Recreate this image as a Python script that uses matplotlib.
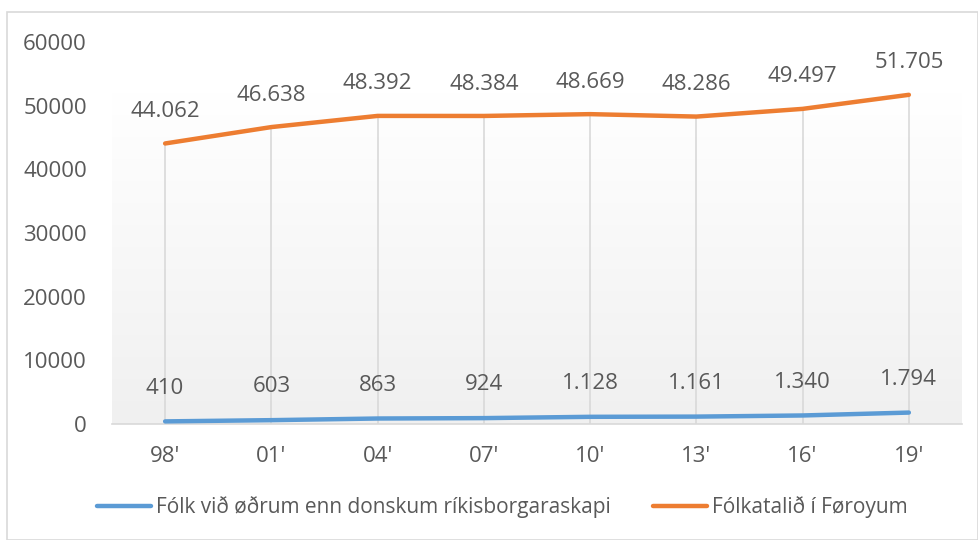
import numpy as np
import matplotlib
matplotlib.use("Agg")
import matplotlib.pyplot as plt
from matplotlib.colors import LinearSegmentedColormap
from matplotlib.patches import Rectangle

categories = ["98'", "01'", "04'", "07'", "10'", "13'", "16'", "19'"]
foreign = [410, 603, 863, 924, 1128, 1161, 1340, 1794]
population = [44062, 46638, 48392, 48384, 48669, 48286, 49497, 51705]
series_names = ["Fólk við øðrum enn donskum ríkisborgaraskapi", "Fólkatalið í Føroyum"]
yticks = [0, 10000, 20000, 30000, 40000, 50000, 60000]

def fmt(v):
    return f"{v:,}".replace(",", ".")

plt.rcParams['font.family'] = ['Open Sans', 'DejaVu Sans']
txt = '#595959'
blue = '#5B9BD5'
orange = '#ED7D31'
FS = 16
LFS = 15

W, H = 979, 540
fig = plt.figure(figsize=(W/100, H/100), dpi=100)
fig.patch.set_facecolor('white')
# outer border
fig.patches.append(Rectangle((7/W, 0.0), 1 - 7/W - 0.5/W, 1 - 12/H, transform=fig.transFigure,
                             fill=False, edgecolor='#d9d9d9', linewidth=1.2))

ax = fig.add_axes([112/W, (H-424)/H, (962-112)/W, (424-42)/H])
x = np.arange(len(categories))
ax.set_xlim(-0.5, len(categories) - 0.5)

# gradient background
grad = np.linspace(0, 1, 256).reshape(-1, 1)
cmap = LinearSegmentedColormap.from_list('g', ['#f0f0f0', '#ffffff'])
ax.imshow(grad, aspect='auto', cmap=cmap, origin='lower',
          extent=[-0.5, len(categories) - 0.5, 0, 52000], zorder=0)
ax.set_ylim(0, 60000)
ax.set_facecolor('none')

# drop lines
ax.vlines(x, 0, population, colors='#d9d9d9', linewidth=1.2, zorder=1)

ax.plot(x, foreign, color=blue, linewidth=3.2, solid_capstyle='round', zorder=3, label=series_names[0])
ax.plot(x, population, color=orange, linewidth=3.2, solid_capstyle='round', zorder=3, label=series_names[1])

for xi, v in zip(x, foreign):
    ax.annotate(fmt(v), (xi, v), xytext=(0, 24), textcoords='offset points',
                ha='center', va='center', fontsize=FS, color=txt)
for xi, v in zip(x, population):
    ax.annotate(fmt(v), (xi, v), xytext=(0, 23), textcoords='offset points',
                ha='center', va='center', fontsize=FS, color=txt)

for s in ['top', 'right', 'left']:
    ax.spines[s].set_visible(False)
ax.spines['bottom'].set_color('#d9d9d9')
ax.spines['bottom'].set_linewidth(1.2)
ax.set_xticks(x)
ax.set_xticklabels(categories)
ax.set_yticks(yticks)
ax.set_yticklabels([str(t) for t in yticks])
ax.tick_params(axis='both', length=0, labelsize=FS, colors=txt)
ax.tick_params(axis='x', pad=16)
ax.tick_params(axis='y', pad=18)

leg = fig.legend(loc='center', bbox_to_anchor=(502.5/W, (H-507)/H), ncol=2, frameon=False,
                 fontsize=LFS, handlelength=2.6, columnspacing=2.0, handletextpad=0.24,
                 borderpad=0, borderaxespad=0)
for t in leg.get_texts():
    t.set_color(txt)

fig.savefig('out.png', dpi=100, facecolor='white')
